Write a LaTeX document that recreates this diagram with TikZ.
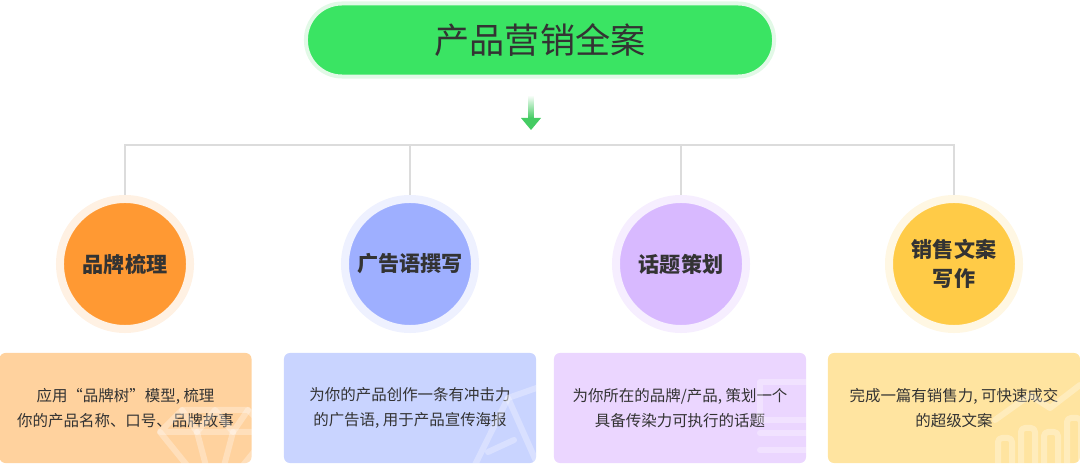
\documentclass[tikz,border=0pt]{standalone}
\usepackage{fontspec}
\setmainfont{Noto Sans CJK SC}
\usetikzlibrary{positioning}
\definecolor{textgray}{HTML}{333333}
\definecolor{linegray}{HTML}{DCDCDC}
\definecolor{titlegreen}{HTML}{3AE463}
\definecolor{titleglow}{HTML}{E2F9E7}
\definecolor{arrowgreen}{HTML}{45CC63}
\definecolor{orgfill}{HTML}{FF9933}
\definecolor{orgglow}{HTML}{FFF1E3}
\definecolor{orgcard}{HTML}{FFD29E}
\definecolor{bluefill}{HTML}{9EAFFF}
\definecolor{blueglow}{HTML}{EEF1FF}
\definecolor{bluecard}{HTML}{C9D4FF}
\definecolor{purfill}{HTML}{D8B9FF}
\definecolor{purglow}{HTML}{F6EEFF}
\definecolor{purcard}{HTML}{EBD6FF}
\definecolor{yelfill}{HTML}{FFCB47}
\definecolor{yelglow}{HTML}{FFF7E3}
\definecolor{yelcard}{HTML}{FFE4A0}

\begin{document}
\begin{tikzpicture}[x=0.025cm, y=-0.025cm,
  rootbox/.style={rectangle, rounded corners=0.9cm, fill=titlegreen, draw=titleglow, line width=0.1cm,
                  minimum width=11.7cm, minimum height=1.825cm, text=textgray, font=\fontsize{25}{29}\selectfont},
  bubble/.style={circle, line width=0.2cm, minimum size=3.25cm, inner sep=0pt, align=center,
                 text=textgray, font=\fontsize{15}{21}\selectfont\bfseries},
  card/.style={rectangle, rounded corners=0.15cm, minimum width=6.3cm, minimum height=2.75cm,
               align=center, text=textgray, font=\fontsize{11}{17.7}\selectfont},
  link/.style={draw=linegray, line width=0.04cm},
  wmark/.style={draw=white, opacity=0.3, line width=0.15cm, line cap=round, line join=round}
]
\useasboundingbox (0,0) rectangle (1080,464);

% top of the tree
\node[rootbox] (root) at (540,40) {产品营销全案};
\coordinate (arrtop) at (531,95);
\coordinate (arrtip) at (531,130);
\shade[top color=white, bottom color=arrowgreen] ([xshift=-0.07cm]arrtop) rectangle ([xshift=0.07cm,yshift=0.3cm]arrtip);
\fill[arrowgreen] ([xshift=-0.25cm,yshift=0.3cm]arrtip) -- ([xshift=0.25cm,yshift=0.3cm]arrtip) -- (arrtip) -- cycle;

% four topics
\node[bubble, fill=orgfill, draw=orgglow] (brand) at (125,264) {品牌梳理};
\node[bubble, fill=bluefill, draw=blueglow] (slogan) at (410,264) {广告语撰写};
\node[bubble, fill=purfill, draw=purglow] (topic) at (681,264) {话题策划};
\node[bubble, fill=yelfill, draw=yelglow] (sales) at (954,264) {销售文案\\写作};

\coordinate (bus) at (540,145);
\draw[link] (brand.north) |- (bus) -| (sales.north);
\draw[link] (slogan.north) -- (slogan.north |- bus);
\draw[link] (topic.north) -- (topic.north |- bus);

% cards
\node[card, fill=orgcard] (brandtxt) at (125.5,408) {应用“品牌树”模型, 梳理\\你的产品名称、口号、品牌故事};
\node[card, fill=bluecard] (slogantxt) at (410,408) {为你的产品创作一条有冲击力\\的广告语, 用于产品宣传海报};
\node[card, fill=purcard] (topictxt) at (680,408) {为你所在的品牌/产品, 策划一个\\具备传染力可执行的话题};
\node[card, fill=yelcard] (salestxt) at (954,408) {完成一篇有销售力, 可快速成交\\的超级文案};

% faint icons
\begin{scope}
  \clip[rounded corners=0.15cm] (brandtxt.south west) rectangle (brandtxt.north east);
  \draw[wmark] (160,432) -- (182,410) -- (248,410) -- (270,432) -- cycle;
  \draw[wmark] (160,432) -- (215,500) -- (270,432);
  \draw[wmark] (182,410) -- (197,432) -- (215,410) -- (233,432) -- (248,410);
  \draw[wmark] (197,432) -- (215,500) -- (233,432);
\end{scope}
\begin{scope}
  \clip[rounded corners=0.15cm] (slogantxt.south west) rectangle (slogantxt.north east);
  \draw[wmark] (470,475) -- (508,398) -- (545,385);
  \draw[wmark] (508,398) -- (540,470);
  \draw[wmark] (488,452) -- (514,440);
\end{scope}
\begin{scope}
  \clip[rounded corners=0.15cm] (topictxt.south west) rectangle (topictxt.north east);
  \draw[wmark] (812,382) -- (760,382) -- (760,420) -- (812,420);
  \draw[wmark] (760,433) -- (812,433);
  \draw[wmark] (760,450) -- (812,450);
\end{scope}
\begin{scope}
  \clip[rounded corners=0.15cm] (salestxt.south west) rectangle (salestxt.north east);
  \draw[wmark, rounded corners=0.1cm] (998,470) -- (998,438) -- (1012,438) -- (1012,470);
  \draw[wmark, rounded corners=0.1cm] (1021,470) -- (1021,428) -- (1035,428) -- (1035,470);
  \draw[wmark, rounded corners=0.1cm] (1044,470) -- (1044,432) -- (1058,432) -- (1058,470);
  \draw[wmark, rounded corners=0.1cm] (1067,470) -- (1067,418) -- (1081,418) -- (1081,470);
  \draw[wmark] (995,420) -- (1030,395) -- (1050,408) -- (1080,385);
\end{scope}
\end{tikzpicture}
\end{document}
